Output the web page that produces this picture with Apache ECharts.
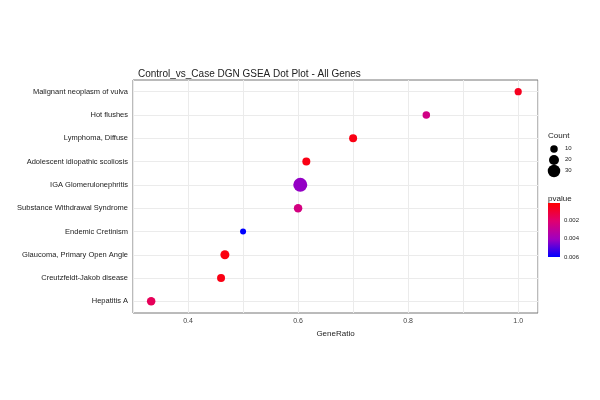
<!DOCTYPE html>
<html><head><meta charset="utf-8">
<script src="https://cdn.jsdelivr.net/npm/echarts@6/dist/echarts.min.js"></script>
<style>html,body{margin:0;background:#fff}#c{width:600px;height:400px}</style>
</head><body><div id="c"></div>
<script>
var terms = ['Hepatitis A','Creutzfeldt-Jakob disease','Glaucoma, Primary Open Angle','Endemic Cretinism',
  'Substance Withdrawal Syndrome','IGA Glomerulonephritis','Adolescent idiopathic scoliosis',
  'Lymphoma, Diffuse','Hot flushes','Malignant neoplasm of vulva'];
var geneRatio = [0.333, 0.46, 0.467, 0.5, 0.6, 0.604, 0.615, 0.7, 0.833, 1.0];
var counts = [14, 12, 16, 4, 14, 36, 12, 12, 10, 9];
var pvalues = [0.0017, 0.0005, 0.0004, 0.006, 0.0025, 0.0042, 0.0005, 0.0005, 0.0026, 0.0007];
var countTicks = [10, 20, 30];
var pTicks = ['0.002', '0.004', '0.006'];
var pColors = ['#ff0000', '#e00070', '#a000c0', '#0000ff'];

function sz(c) { return 5 + c * 0.25; }

var data = terms.map(function (t, i) { return [geneRatio[i], t, counts[i], pvalues[i]]; });

var myChart = echarts.init(document.getElementById('c'));
var txt = {fontFamily: 'Liberation Sans, Arial', fill: '#222'};
var graphics = [
  {type: 'text', left: 548, top: 132, style: Object.assign({text: 'Count', fontSize: 8}, txt)},
  {type: 'text', left: 548, top: 195, style: Object.assign({text: 'pvalue', fontSize: 8}, txt)},
  {type: 'rect', left: 548, top: 203, shape: {width: 12, height: 54},
    style: {fill: new echarts.graphic.LinearGradient(0, 0, 0, 1, pColors.map(function (c, i) {
      return {offset: i / (pColors.length - 1), color: c};
    }))}}
];
countTicks.forEach(function (c, i) {
  var cy = 149 + i * 11;
  graphics.push({type: 'circle', shape: {cx: 554, cy: cy, r: sz(c) / 2}, style: {fill: '#000'}});
  graphics.push({type: 'text', left: 565, top: cy - 4, style: Object.assign({text: String(c), fontSize: 6}, txt)});
});
pTicks.forEach(function (p, i) {
  graphics.push({type: 'text', left: 564, top: 217 + i * 18.5, style: Object.assign({text: p, fontSize: 6}, txt)});
});

option = {
  backgroundColor: '#fff',
  textStyle: {fontFamily: 'Liberation Sans, Arial'},
  title: {text: 'Control_vs_Case DGN GSEA Dot Plot - All Genes', left: 133, top: 64,
    textStyle: {fontSize: 10, fontWeight: 'normal', color: '#222'}},
  grid: {left: 133, right: 62, top: 80, bottom: 87, show: true, borderColor: '#777', borderWidth: 1},
  xAxis: {type: 'value', min: 0.3, max: 1.036, interval: 0.1, name: 'GeneRatio', nameLocation: 'middle', nameGap: 16,
    nameTextStyle: {fontSize: 8, color: '#222'},
    axisLine: {show: false}, axisTick: {show: false},
    axisLabel: {fontSize: 7, color: '#444', margin: 5, showMaxLabel: false, formatter: function (v) {
      var r = Math.round(v * 10);
      return (r % 2 === 0) ? v.toFixed(1) : '';
    }},
    splitLine: {lineStyle: {color: '#ebebeb'}}},
  yAxis: {type: 'category', data: terms, axisLine: {show: false},
    axisTick: {length: 3, alignWithLabel: true, lineStyle: {color: '#333'}},
    axisLabel: {fontSize: 7.5, color: '#222', margin: 5},
    splitLine: {show: false}},
  visualMap: {show: false, type: 'continuous', dimension: 3, seriesIndex: 0, min: 0.00016, max: 0.006,
    inRange: {color: pColors}},
  series: [
    {type: 'scatter', data: data, zlevel: 1, itemStyle: {opacity: 1}, symbolSize: function (v) { return sz(v[2]); }},
    {type: 'line', data: [], markLine: {silent: true, symbol: 'none', label: {show: false},
      lineStyle: {color: '#ebebeb', type: 'solid', width: 1},
      data: terms.map(function (t) { return {yAxis: t}; })}}
  ],
  graphic: graphics
};
myChart.setOption(option, true);
</script></body></html>
